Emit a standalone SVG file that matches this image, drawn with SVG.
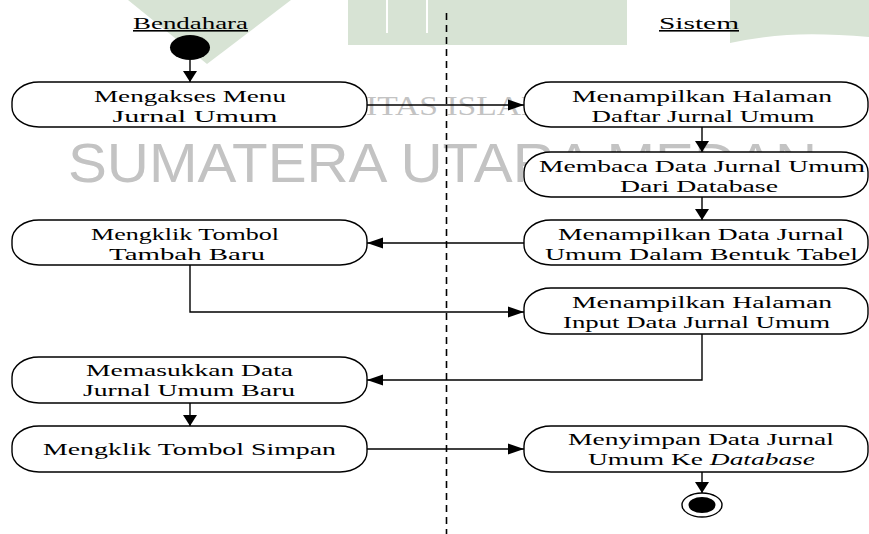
<svg xmlns="http://www.w3.org/2000/svg" width="869" height="534" viewBox="0 0 869 534">
  <style>
    .wm { fill: #d7e3d4; }
    .wmt { fill: #c3c3c3; font-family: "Liberation Sans Narrow", "Liberation Sans", Arial, sans-serif; }
    .wms { fill: #c3c3c3; font-family: "Liberation Serif", "Times New Roman", serif; }
    .box { fill: #ffffff; stroke: #000000; stroke-width: 1.4; }
    .t { font-family: "Liberation Serif", "Times New Roman", serif; font-size: 17px; fill: #000000; text-anchor: middle; }
    .hd { font-family: "Liberation Serif", "Times New Roman", serif; font-size: 16px; fill: #000000; text-anchor: middle; text-decoration: underline; }
    .c { fill: none; stroke: #000000; stroke-width: 1.4; }
    .lane { stroke: #000000; stroke-width: 1.6; stroke-dasharray: 7 5; fill: none; }
  </style>
  <defs>
    <marker id="ah" markerUnits="userSpaceOnUse" markerWidth="16" markerHeight="12" refX="16" refY="6" orient="auto">
      <path d="M0,0.5 L16,6 L0,11.5 z" fill="#000000"/>
    </marker>
    <marker id="av" markerUnits="userSpaceOnUse" markerWidth="11" markerHeight="15" refX="11" refY="7.5" orient="auto">
      <path d="M0,0.5 L11,7.5 L0,14.5 z" fill="#000000"/>
    </marker>
  </defs>
  <rect x="0" y="0" width="869" height="534" fill="#ffffff"/>

  <g id="watermark">
    <path class="wm" d="M128,0 H291 L207,64 Z"/>
    <rect class="wm" x="348" y="0" width="279" height="45"/>
    <rect x="386" y="0" width="2" height="33" fill="#ffffff"/>
    <rect x="426" y="0" width="2" height="33" fill="#ffffff"/>
    <path class="wm" d="M730,0 H869 V37 Q822,33 787,35 Q760,37 730,43 Z"/>
    <text class="wms" x="366" y="115" font-size="28" textLength="185" lengthAdjust="spacingAndGlyphs">ITAS ISLAM</text>
    <text class="wmt" x="68" y="182" font-size="56" textLength="749" lengthAdjust="spacingAndGlyphs">SUMATERA UTARA MEDAN</text>
  </g>

  <line id="swimlane-divider" class="lane" x1="446.5" y1="13" x2="446.5" y2="534"/>

  <g id="headers">
    <text class="hd" x="190.5" y="29" textLength="115" lengthAdjust="spacingAndGlyphs">Bendahara</text>
    <text class="hd" x="699" y="29" textLength="80" lengthAdjust="spacingAndGlyphs">Sistem</text>
  </g>

  <g id="connectors">
    <path class="c" d="M190,60 V82" marker-end="url(#av)"/>
    <path class="c" d="M367,105 H524" marker-end="url(#ah)"/>
    <path class="c" d="M702,127 V152" marker-end="url(#av)"/>
    <path class="c" d="M702,197 V220" marker-end="url(#av)"/>
    <path class="c" d="M524,243 H367" marker-end="url(#ah)"/>
    <path class="c" d="M190,265 V312 H524" marker-end="url(#ah)"/>
    <path class="c" d="M702,334 V380 H367" marker-end="url(#ah)"/>
    <path class="c" d="M190,403 V426" marker-end="url(#av)"/>
    <path class="c" d="M367,449 H524" marker-end="url(#ah)"/>
    <path class="c" d="M702,472 V493" marker-end="url(#av)"/>
  </g>

  <g id="start">
    <ellipse cx="190" cy="47.5" rx="20" ry="12.5" fill="#000000"/>
  </g>

  <g id="mengakses-menu">
    <rect class="box" x="12" y="82" width="355" height="45" rx="27" ry="20"/>
    <text class="t" x="190" y="102" textLength="192" lengthAdjust="spacingAndGlyphs">Mengakses Menu</text>
    <text class="t" x="195" y="122" textLength="165" lengthAdjust="spacingAndGlyphs">Jurnal Umum</text>
  </g>

  <g id="tampil-halaman-daftar">
    <rect class="box" x="524" y="82" width="344" height="45" rx="27" ry="20"/>
    <text class="t" x="702" y="102" textLength="260" lengthAdjust="spacingAndGlyphs">Menampilkan Halaman</text>
    <text class="t" x="703" y="122" textLength="223" lengthAdjust="spacingAndGlyphs">Daftar Jurnal Umum</text>
  </g>

  <g id="membaca-data">
    <rect class="box" x="524" y="152" width="344" height="45" rx="27" ry="20"/>
    <text class="t" x="702" y="172" textLength="326" lengthAdjust="spacingAndGlyphs">Membaca Data Jurnal Umum</text>
    <text class="t" x="699" y="192" textLength="158" lengthAdjust="spacingAndGlyphs">Dari Database</text>
  </g>

  <g id="tampil-data-tabel">
    <rect class="box" x="524" y="220" width="344" height="45" rx="27" ry="20"/>
    <text class="t" x="701" y="240" textLength="286" lengthAdjust="spacingAndGlyphs">Menampilkan Data Jurnal</text>
    <text class="t" x="701.5" y="260" textLength="313" lengthAdjust="spacingAndGlyphs">Umum Dalam Bentuk Tabel</text>
  </g>

  <g id="klik-tambah-baru">
    <rect class="box" x="12" y="220" width="355" height="45" rx="27" ry="20"/>
    <text class="t" x="185" y="240" textLength="188" lengthAdjust="spacingAndGlyphs">Mengklik Tombol</text>
    <text class="t" x="187" y="260" textLength="156" lengthAdjust="spacingAndGlyphs">Tambah Baru</text>
  </g>

  <g id="tampil-halaman-input">
    <rect class="box" x="524" y="288" width="344" height="46" rx="27" ry="20"/>
    <text class="t" x="702" y="308" textLength="260" lengthAdjust="spacingAndGlyphs">Menampilkan Halaman</text>
    <text class="t" x="696.5" y="328" textLength="267" lengthAdjust="spacingAndGlyphs">Input Data Jurnal Umum</text>
  </g>

  <g id="memasukkan-data">
    <rect class="box" x="12" y="357" width="355" height="46" rx="27" ry="20"/>
    <text class="t" x="189.5" y="376" textLength="207" lengthAdjust="spacingAndGlyphs">Memasukkan Data</text>
    <text class="t" x="189" y="396" textLength="212" lengthAdjust="spacingAndGlyphs">Jurnal Umum Baru</text>
  </g>

  <g id="klik-simpan">
    <rect class="box" x="12" y="426" width="355" height="46" rx="27" ry="20"/>
    <text class="t" x="189.5" y="455" textLength="293" lengthAdjust="spacingAndGlyphs">Mengklik Tombol Simpan</text>
  </g>

  <g id="menyimpan-data">
    <rect class="box" x="524" y="426" width="344" height="46" rx="27" ry="20"/>
    <text class="t" x="701" y="445" textLength="266" lengthAdjust="spacingAndGlyphs">Menyimpan Data Jurnal</text>
    <text class="t" x="701.5" y="465" textLength="227" lengthAdjust="spacingAndGlyphs">Umum Ke <tspan font-style="italic">Database</tspan></text>
  </g>

  <g id="end">
    <ellipse cx="702" cy="505" rx="20" ry="12" fill="#ffffff" stroke="#000000" stroke-width="1.4"/>
    <ellipse cx="702" cy="505" rx="13.5" ry="8" fill="#000000"/>
  </g>
</svg>
